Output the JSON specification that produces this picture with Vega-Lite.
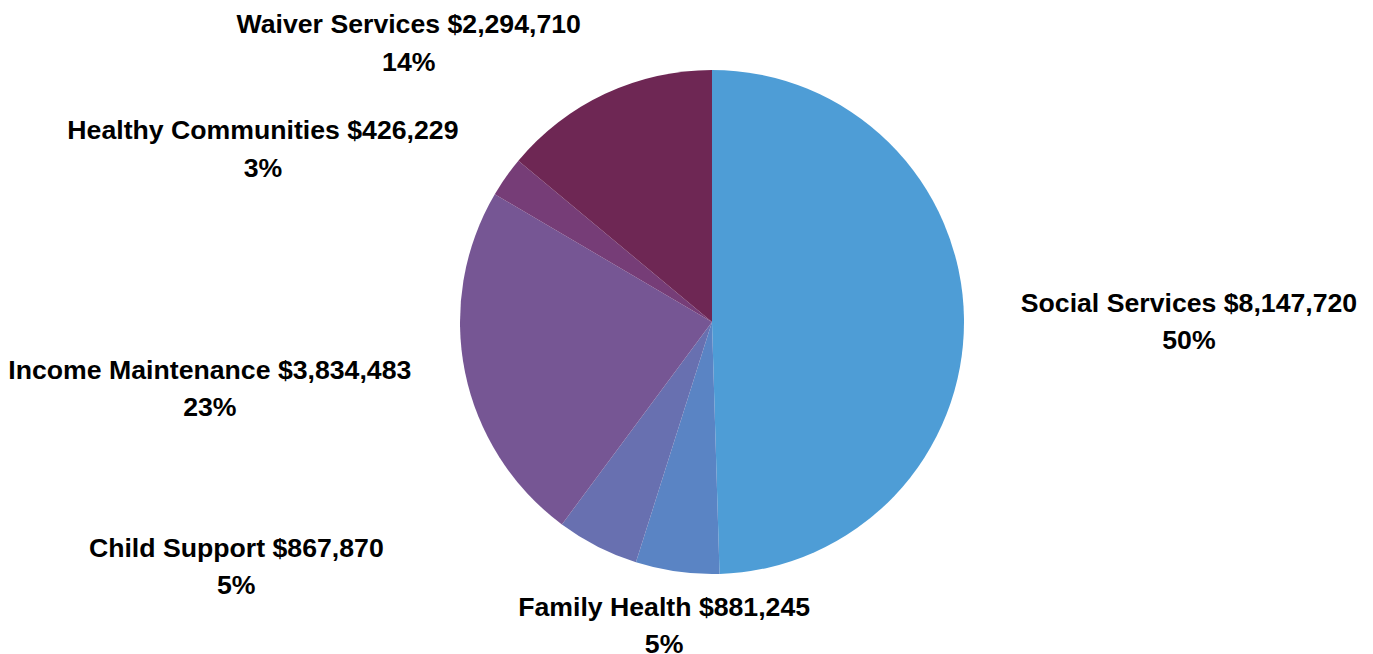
{
  "$schema": "https://vega.github.io/schema/vega-lite/v6.json",
  "width": 1322,
  "height": 644,
  "autosize": {"type": "none"},
  "padding": {"left": 51, "top": 0, "right": 0, "bottom": 10},
  "background": "white",
  "config": {"view": {"stroke": null}},
  "data": {"values": [
    {"category": "Social Services", "amount": 8147720},
    {"category": "Family Health", "amount": 881245},
    {"category": "Child Support", "amount": 867870},
    {"category": "Income Maintenance", "amount": 3834483},
    {"category": "Healthy Communities", "amount": 426229},
    {"category": "Waiver Services", "amount": 2294710}
  ]},
  "transform": [
    {"window": [{"op": "row_number", "as": "idx"}]},
    {"joinaggregate": [{"op": "sum", "field": "amount", "as": "total"}]},
    {"stack": "amount", "groupby": [], "sort": [{"field": "idx", "order": "ascending"}], "as": ["t0", "t1"]},
    {"calculate": "(datum.t0 + datum.t1) / 2", "as": "mid"},
    {"calculate": "datum.category + ' ' + format(datum.amount, '$,') + '\\n' + format(datum.amount / datum.total, '.0%')", "as": "label"}
  ],
  "layer": [
    {
      "mark": {"type": "arc", "outerRadius": 252},
      "encoding": {
        "theta": {"field": "t1", "type": "quantitative", "stack": null, "scale": {"nice": false, "zero": true}},
        "theta2": {"field": "t0"},
        "color": {
          "field": "category",
          "type": "nominal",
          "legend": null,
          "scale": {
            "domain": ["Social Services", "Family Health", "Child Support", "Income Maintenance", "Healthy Communities", "Waiver Services"],
            "range": ["#4E9DD6", "#5A84C4", "#6870B0", "#765694", "#763D77", "#6E2754"]
          }
        }
      }
    },
    {
      "transform": [{"filter": "datum.category == 'Social Services'"}],
      "mark": {"type": "text", "radius": 340, "dx": 137, "dy": -13, "font": "Liberation Sans", "fontWeight": "bold", "fontSize": 26.67, "lineHeight": 37.5, "lineBreak": "\n", "align": "center", "baseline": "middle", "color": "#000000"},
      "encoding": {"theta": {"field": "mid", "type": "quantitative", "stack": null}, "text": {"field": "label"}}
    },
    {
      "transform": [{"filter": "datum.category == 'Family Health'"}],
      "mark": {"type": "text", "radius": 340, "dx": -1, "dy": -51, "font": "Liberation Sans", "fontWeight": "bold", "fontSize": 26.67, "lineHeight": 37.5, "lineBreak": "\n", "align": "center", "baseline": "middle", "color": "#000000"},
      "encoding": {"theta": {"field": "mid", "type": "quantitative", "stack": null}, "text": {"field": "label"}}
    },
    {
      "transform": [{"filter": "datum.category == 'Child Support'"}],
      "mark": {"type": "text", "radius": 340, "dx": -321, "dy": -76, "font": "Liberation Sans", "fontWeight": "bold", "fontSize": 26.67, "lineHeight": 37.5, "lineBreak": "\n", "align": "center", "baseline": "middle", "color": "#000000"},
      "encoding": {"theta": {"field": "mid", "type": "quantitative", "stack": null}, "text": {"field": "label"}}
    },
    {
      "transform": [{"filter": "datum.category == 'Income Maintenance'"}],
      "mark": {"type": "text", "radius": 340, "dx": -169, "dy": -19, "font": "Liberation Sans", "fontWeight": "bold", "fontSize": 26.67, "lineHeight": 37.5, "lineBreak": "\n", "align": "center", "baseline": "middle", "color": "#000000"},
      "encoding": {"theta": {"field": "mid", "type": "quantitative", "stack": null}, "text": {"field": "label"}}
    },
    {
      "transform": [{"filter": "datum.category == 'Healthy Communities'"}],
      "mark": {"type": "text", "radius": 340, "dx": -171, "dy": 5, "font": "Liberation Sans", "fontWeight": "bold", "fontSize": 26.67, "lineHeight": 37.5, "lineBreak": "\n", "align": "center", "baseline": "middle", "color": "#000000"},
      "encoding": {"theta": {"field": "mid", "type": "quantitative", "stack": null}, "text": {"field": "label"}}
    },
    {
      "transform": [{"filter": "datum.category == 'Waiver Services'"}],
      "mark": {"type": "text", "radius": 340, "dx": -159, "dy": 11, "font": "Liberation Sans", "fontWeight": "bold", "fontSize": 26.67, "lineHeight": 37.5, "lineBreak": "\n", "align": "center", "baseline": "middle", "color": "#000000"},
      "encoding": {"theta": {"field": "mid", "type": "quantitative", "stack": null}, "text": {"field": "label"}}
    }
  ]
}
